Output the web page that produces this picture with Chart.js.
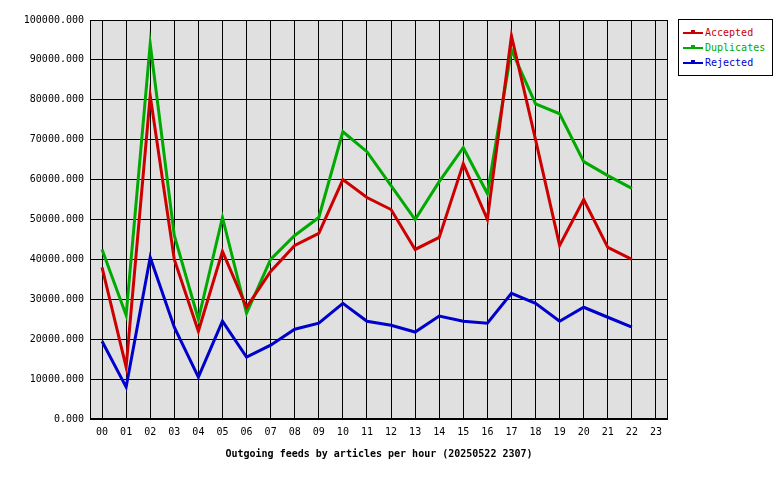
<!DOCTYPE html>
<html><head><meta charset="utf-8">
<script src="https://cdn.jsdelivr.net/npm/chart.js@4"></script>
<style>
body{margin:0;background:#fff}
#wrap{position:relative;width:780px;height:480px}
#legend{position:absolute;left:678px;top:19px;width:93px;height:55px;border:1px solid #000;background:#fff;font:10px "DejaVu Sans Mono",monospace}
#legend div{position:relative;height:15px;line-height:15px;padding-left:26px;margin-top:0}
#legend div:first-child{margin-top:5px}
#legend span{position:absolute;left:4px;top:7px;width:20px;height:2px}
#legend i{position:absolute;left:12px;top:5px;width:4px;height:4px}
</style></head>
<body><div id="wrap"><canvas id="c" width="780" height="480"></canvas><div id="legend"></div></div>
<script>
const hours = ['00','01','02','03','04','05','06','07','08','09','10','11','12','13','14','15','16','17','18','19','20','21','22','23'];
const accepted = [38000,13000,81000,40000,22000,42000,28000,37000,43500,46500,60000,55500,52500,42500,45500,64000,50000,96000,70000,43500,55000,43000,40000,null];
const duplicates = [42500,26000,94000,46000,25000,50500,26500,40000,46000,50500,72000,67000,58500,50000,59500,68000,56500,92500,79000,76500,64500,61000,57800,null];
const rejected = [19500,8000,40500,23000,10500,24500,15500,18500,22500,24000,29000,24500,23500,21800,25800,24500,24000,31500,29000,24500,28000,25500,23000,null];

const series = [
  {label:'Accepted', data:accepted, color:'#cc0000'},
  {label:'Duplicates', data:duplicates, color:'#00aa00'},
  {label:'Rejected', data:rejected, color:'#0000cc'}
];
const mono = '"DejaVu Sans Mono", monospace';

const legend = document.getElementById('legend');
series.forEach(s => {
  const d = document.createElement('div');
  d.style.color = s.color;
  d.innerHTML = '<span style="background:'+s.color+'"></span><i style="background:'+s.color+'"></i>' + s.label;
  legend.appendChild(d);
});

const plotBg = {
  id:'plotBg',
  beforeDraw(chart){
    const {ctx, chartArea:a} = chart;
    ctx.save(); ctx.fillStyle='#e0e0e0';
    ctx.fillRect(a.left,a.top,a.right-a.left,a.bottom-a.top); ctx.restore();
  },
  afterDraw(chart){
    const {ctx, chartArea:a} = chart;
    ctx.save(); ctx.strokeStyle='#000'; ctx.lineWidth=1;
    ctx.strokeRect(a.left+0.5,a.top+0.5,a.right-a.left-1,a.bottom-a.top-1); ctx.restore();
  }
};

new Chart(document.getElementById('c'), {
  type:'line',
  data:{
    labels:hours,
    datasets:series.map(s => ({label:s.label, data:s.data, borderColor:s.color, borderWidth:3, pointRadius:0, tension:0}))
  },
  options:{
    responsive:false, animation:false,
    layout:{padding:{top:20,right:112,bottom:20,left:0}},
    plugins:{legend:{display:false}, tooltip:{enabled:false}},
    scales:{
      x:{
        offset:true,
        grid:{color:'#000', offset:false, drawTicks:false},
        border:{display:false},
        ticks:{color:'#000', font:{family:mono,size:10}, padding:7, maxRotation:0, autoSkip:false},
        title:{display:true, text:'Outgoing feeds by articles per hour (20250522 2307)', color:'#000', font:{family:mono,size:10,weight:'bold'}, padding:{top:3,bottom:0}}
      },
      y:{
        min:0, max:100000,
        afterFit(s){ s.width = 90; },
        grid:{color:'#000', drawTicks:false},
        border:{display:false},
        ticks:{stepSize:10000, color:'#000', font:{family:mono,size:10}, padding:6, callback:v => v.toFixed(3)}
      }
    }
  },
  plugins:[plotBg]
});
</script></body></html>
